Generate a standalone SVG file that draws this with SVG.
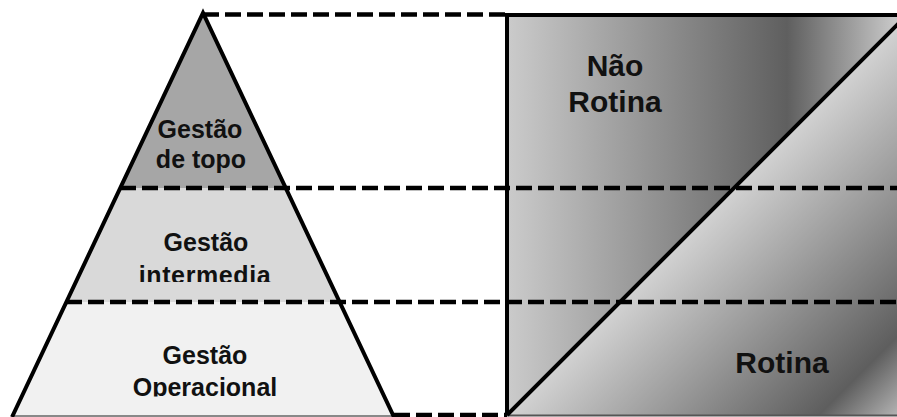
<svg xmlns="http://www.w3.org/2000/svg" width="897" height="417" viewBox="0 0 897 417">
<style>
.lbl{font-family:"Liberation Sans",Arial,sans-serif;font-weight:bold;fill:#111;text-anchor:middle}
.s25{font-size:25px}
.s30{font-size:30px}
.dash{stroke:#000;stroke-width:4.5;stroke-dasharray:16 6;fill:none}
.solid{stroke:#000;stroke-width:4;fill:none;stroke-linejoin:miter}
</style>
<defs>
<linearGradient id="gUp" gradientUnits="userSpaceOnUse" x1="507" y1="0" x2="907" y2="0">
<stop offset="0" stop-color="#cbcbcb"/>
<stop offset="0.7" stop-color="#5f5f5f"/>
<stop offset="0.74" stop-color="#6e6e6e"/>
<stop offset="0.97" stop-color="#c8c8c8"/>
</linearGradient>
<linearGradient id="gLow" gradientUnits="userSpaceOnUse" x1="707" y1="215" x2="907" y2="415">
<stop offset="0" stop-color="#d2d2d2"/>
<stop offset="0.78" stop-color="#5e5e5e"/>
<stop offset="1" stop-color="#bdbdbd"/>
</linearGradient>
<clipPath id="cMid"><rect x="0" y="188" width="400" height="94"/></clipPath>
<clipPath id="cLow"><rect x="0" y="302" width="400" height="94.5"/></clipPath>
</defs>

<g id="level-top">
<polygon points="203,13 120,188 286,188" fill="#a6a6a6"/>
<text class="lbl s25" x="200" y="138">Gestão</text>
<text class="lbl s25" x="201" y="168">de topo</text>
</g>

<g id="level-middle">
<polygon points="120,188 286,188 340,302 66,302" fill="#d9d9d9"/>
<g clip-path="url(#cMid)">
<text class="lbl s25" x="206" y="251">Gestão</text>
<text class="lbl s25" x="205" y="284" letter-spacing="0.6">intermedia</text>
</g>
</g>

<g id="level-bottom">
<polygon points="66,302 340,302 394,417 12,417" fill="#f1f1f1"/>
<g clip-path="url(#cLow)">
<text class="lbl s25" x="205" y="364">Gestão</text>
<text class="lbl s25" x="205" y="396">Operacional</text>
</g>
<line x1="12" y1="416" x2="394" y2="416" stroke="#666" stroke-width="1.5"/>
</g>

<g id="pyramid-outline">
<polyline class="solid" points="12,417 203,13 394,417"/>
</g>

<g id="nao-rotina">
<polygon points="507,15 907,15 507,415" fill="url(#gUp)"/>
<text class="lbl s30" x="615" y="76">Não</text>
<text class="lbl s30" x="615" y="112">Rotina</text>
</g>

<g id="rotina">
<polygon points="507,415 907,15 907,415" fill="url(#gLow)"/>
<text class="lbl s30" x="782" y="373">Rotina</text>
</g>

<g id="connectors">
<line class="dash" x1="203" y1="14.5" x2="507" y2="14.5"/>
<line class="dash" x1="120" y1="188" x2="897" y2="188"/>
<line class="dash" x1="66" y1="302" x2="897" y2="302"/>
<line class="dash" x1="394" y1="415" x2="507" y2="415"/>
</g>

<g id="panel-outline">
<polyline class="solid" points="507,415 507,15 900,15" stroke-width="4.5"/>
<line x1="507" y1="415.5" x2="897" y2="415.5" stroke="#555" stroke-width="2"/>
<line class="solid" x1="507" y1="415" x2="907" y2="15" stroke-width="4.5"/>
</g>
</svg>
